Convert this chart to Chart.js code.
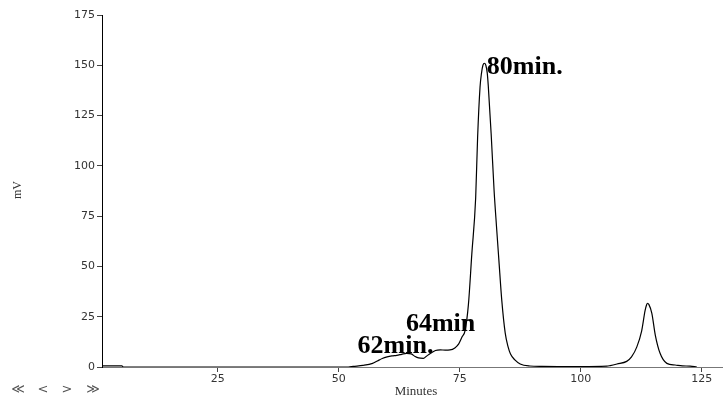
<!DOCTYPE html>
<html>
<head>
<meta charset="utf-8">
<script src="https://cdn.jsdelivr.net/npm/chart.js@4/dist/chart.umd.min.js"></script>
<style>
  html, body { margin: 0; padding: 0; background: #fff; }
  canvas { display: block; }
</style>
</head>
<body>
<canvas id="chromChart" width="723" height="398"></canvas>
<script>
// retention time (min) and detector signal (mV)
const minutes = [1.1, 5.2, 5.5, 52, 53, 55, 57, 58, 59, 60, 61, 62, 63, 64, 65, 65.8, 66.5, 67.5, 68.2, 69, 70, 71, 72, 73, 74, 74.8, 75.5, 76.1, 76.8, 77.5, 78.3, 78.7, 79.2, 79.5, 79.8, 80.1, 80.4, 80.7, 80.9, 81.5, 82.1, 82.6, 83.1, 83.7, 84.4, 85, 85.5, 86.4, 87.5, 89.5, 92, 100, 105.4, 106.1, 107.5, 109.5, 110.5, 111.6, 112.6, 113.3, 113.6, 113.8, 114.1, 114.7, 115.4, 116.4, 117.8, 119.5, 121, 122.6, 124];
const signal = [0.6, 0.6, 0, 0, 0.3, 0.8, 1.8, 3, 4.2, 5, 5.5, 5.8, 6.3, 6.8, 6.5, 5.2, 4.5, 4.3, 5.5, 6.8, 8.2, 8.5, 8.4, 8.5, 9.5, 11.5, 15, 18, 31, 56, 84, 114, 139, 146, 150, 151, 150, 146, 140, 116, 88, 70, 53, 33, 17, 10, 6.5, 3.5, 1.5, 0.5, 0.3, 0.2, 0.4, 0.7, 1.5, 2.8, 5, 10, 18, 28, 30.8, 31.7, 31, 26.7, 16, 6.8, 1.8, 1, 0.6, 0.4, 0];

const xTicks = [25, 50, 75, 100, 125];
const yTicks = [0, 25, 50, 75, 100, 125, 150, 175];

// peak labels: text and the (minutes, mV) point where the text starts
const peakNames = ['80min.', '64min', '62min.'];
const peakX = [80.6, 63.9, 53.9];
const peakY = [145.5, 18, 6.8];

const extraText = {
  id: 'extraText',
  afterDatasetsDraw(chart) {
    const { ctx, scales } = chart;
    ctx.save();

    // peak annotations
    ctx.fillStyle = '#000';
    ctx.font = 'bold 26px "Liberation Serif", "Times New Roman", serif';
    ctx.textAlign = 'left';
    ctx.textBaseline = 'alphabetic';
    peakNames.forEach((name, i) => {
      ctx.fillText(name, scales.x.getPixelForValue(peakX[i]), scales.y.getPixelForValue(peakY[i]));
    });

    // axis titles
    ctx.fillStyle = '#333';
    ctx.font = '13px "Liberation Serif", serif';
    ctx.textAlign = 'center';
    ctx.textBaseline = 'middle';
    ctx.fillText('Minutes', 416, 392);

    ctx.translate(18, 190);
    ctx.rotate(-Math.PI / 2);
    ctx.font = '12px "Liberation Serif", serif';
    ctx.fillText('mV', 0, 0);
    ctx.restore();

    // navigation arrows under the y axis
    ctx.save();
    ctx.fillStyle = '#555';
    ctx.font = '13px "DejaVu Sans", sans-serif';
    ctx.textAlign = 'center';
    ctx.textBaseline = 'middle';
    ctx.fillText('\u226A', 18, 390);
    ctx.fillText('<', 43, 390);
    ctx.fillText('>', 67, 390);
    ctx.fillText('\u226B', 93, 390);
    ctx.restore();
  }
};

new Chart(document.getElementById('chromChart'), {
  type: 'line',
  data: {
    datasets: [{
      data: minutes.map((m, i) => ({ x: m, y: signal[i] })),
      borderColor: '#000',
      borderWidth: 1.2,
      pointRadius: 0,
      cubicInterpolationMode: 'monotone',
      fill: false
    }]
  },
  options: {
    responsive: false,
    animation: false,
    layout: { padding: { top: 15, left: 0, right: 0, bottom: 0 } },
    plugins: {
      legend: { display: false },
      tooltip: { enabled: false }
    },
    scales: {
      x: {
        type: 'linear',
        min: 1.1,
        max: 129.4,
        afterBuildTicks: scale => { scale.ticks = xTicks.map(v => ({ value: v })); },
        afterFit: scale => { scale.height = 31; },
        border: { color: '#777', width: 1 },
        grid: { drawOnChartArea: false, drawTicks: true, tickLength: 5, color: '#444' },
        ticks: {
          padding: 1,
          maxRotation: 0,
          color: '#333',
          font: { family: '"DejaVu Sans", sans-serif', size: 11 }
        }
      },
      y: {
        min: 0,
        max: 175,
        afterBuildTicks: scale => { scale.ticks = yTicks.map(v => ({ value: v })); },
        afterFit: scale => { scale.width = 102; },
        border: { color: '#000', width: 1 },
        grid: { drawOnChartArea: false, drawTicks: true, tickLength: 5, color: '#444' },
        ticks: {
          padding: 2,
          color: '#333',
          font: { family: '"DejaVu Sans", sans-serif', size: 11 }
        }
      }
    }
  },
  plugins: [extraText]
});
</script>
</body>
</html>
